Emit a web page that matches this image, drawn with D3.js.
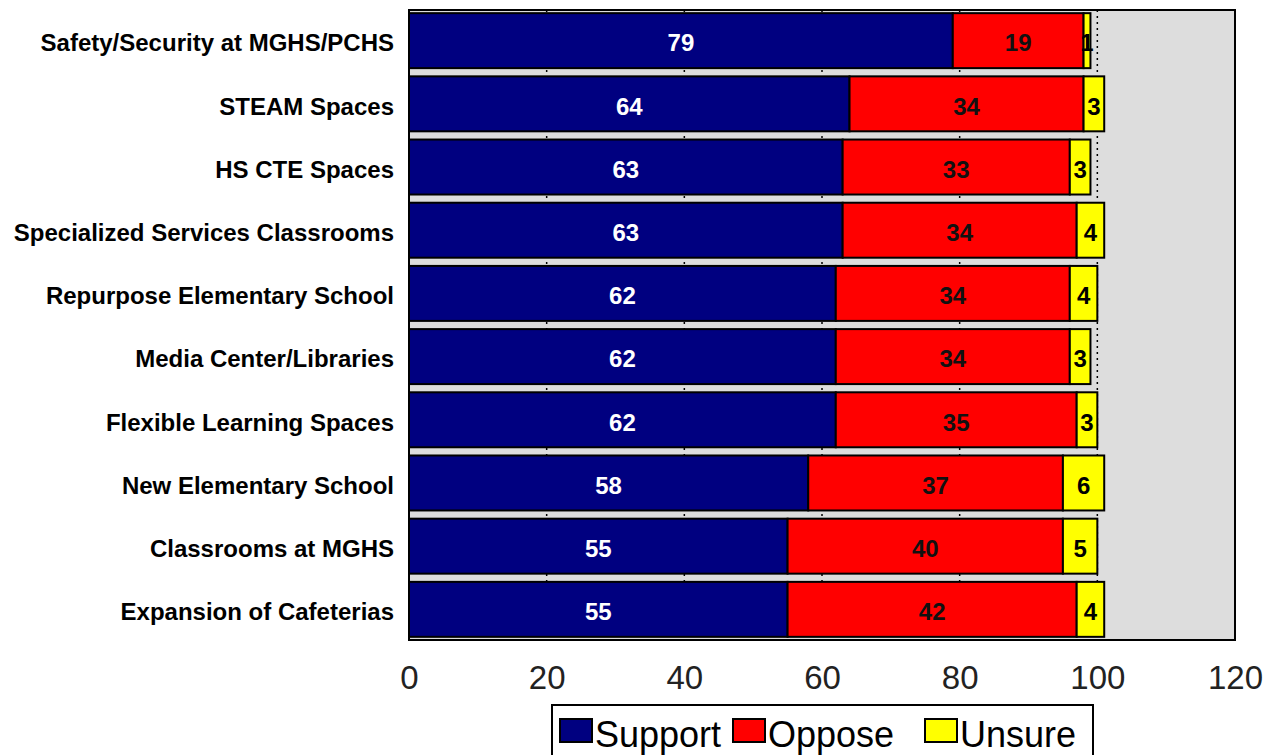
<!DOCTYPE html>
<html>
<head>
<meta charset="utf-8">
<script src="https://cdn.jsdelivr.net/npm/d3@7"></script>
<style>
  html, body { margin: 0; padding: 0; background: #fff; }
  svg { display: block; font-family: "Liberation Sans", Arial, sans-serif; }
</style>
</head>
<body>
<svg id="chart" width="1264" height="755"></svg>
<script>
// Survey results by project
const categories = [
  "Safety/Security at MGHS/PCHS",
  "STEAM Spaces",
  "HS CTE Spaces",
  "Specialized Services Classrooms",
  "Repurpose Elementary School",
  "Media Center/Libraries",
  "Flexible Learning Spaces",
  "New Elementary School",
  "Classrooms at MGHS",
  "Expansion of Cafeterias"
];
const support = [79, 64, 63, 63, 62, 62, 62, 58, 55, 55];
const oppose  = [19, 34, 33, 34, 34, 34, 35, 37, 40, 42];
const unsure  = [1, 3, 3, 4, 4, 3, 3, 6, 5, 4];
const seriesNames = ["Support", "Oppose", "Unsure"];
const seriesColors = ["#000080", "#ff0000", "#ffff00"];
const labelColors = ["#ffffff", "#111111", "#000000"];
const xTicks = [0, 20, 40, 60, 80, 100, 120];

const svg = d3.select("#chart");

const plot = { left: 409, right: 1235, top: 10, bottom: 640 };

const x = d3.scaleLinear().domain([0, 120]).range([plot.left, plot.right]);
const y = d3.scaleBand().domain(categories)
  .range([plot.top, plot.bottom])
  .paddingInner(0.13).paddingOuter(0.05);

// stacked rows
const rows = categories.map((c, i) => ({ category: c, Support: support[i], Oppose: oppose[i], Unsure: unsure[i] }));
const stacked = d3.stack().keys(seriesNames)(rows);

// plot background
svg.append("rect")
  .attr("x", plot.left).attr("y", plot.top)
  .attr("width", plot.right - plot.left).attr("height", plot.bottom - plot.top)
  .attr("fill", "#dddddd");

// dotted gridlines
svg.append("g").selectAll("line")
  .data(xTicks.filter(t => t > 0 && t < 120))
  .join("line")
  .attr("x1", d => x(d)).attr("x2", d => x(d))
  .attr("y1", plot.top).attr("y2", plot.bottom)
  .attr("stroke", "#000").attr("stroke-width", 1.5)
  .attr("stroke-dasharray", "2,4");

// bars
const layers = svg.append("g").selectAll("g")
  .data(stacked)
  .join("g")
  .attr("fill", (d, i) => seriesColors[i]);

layers.selectAll("rect")
  .data(d => d)
  .join("rect")
  .attr("x", d => x(d[0]))
  .attr("y", d => y(d.data.category))
  .attr("width", d => x(d[1]) - x(d[0]))
  .attr("height", y.bandwidth())
  .attr("stroke", "#000")
  .attr("stroke-width", 2);

// value labels
stacked.forEach((layer, si) => {
  svg.append("g").selectAll("text")
    .data(layer)
    .join("text")
    .attr("x", d => (x(d[0]) + x(d[1])) / 2)
    .attr("y", d => y(d.data.category) + y.bandwidth() / 2)
    .attr("dy", "0.45em")
    .attr("text-anchor", "middle")
    .attr("font-size", 24)
    .attr("font-weight", "bold")
    .attr("fill", labelColors[si])
    .text(d => d.data[layer.key]);
});

// frame
svg.append("rect")
  .attr("x", plot.left).attr("y", plot.top)
  .attr("width", plot.right - plot.left).attr("height", plot.bottom - plot.top)
  .attr("fill", "none").attr("stroke", "#000").attr("stroke-width", 2);

// category labels
svg.append("g").selectAll("text")
  .data(categories)
  .join("text")
  .attr("x", plot.left - 15)
  .attr("y", d => y(d) + y.bandwidth() / 2)
  .attr("dy", "0.45em")
  .attr("text-anchor", "end")
  .attr("font-size", 24)
  .attr("font-weight", "bold")
  .attr("fill", "#000")
  .text(d => d);

// x axis tick labels
const xAxis = d3.axisBottom(x).tickValues(xTicks).tickSize(0).tickPadding(0);
const gx = svg.append("g").attr("transform", `translate(0, 665)`).call(xAxis);
gx.select(".domain").remove();
gx.selectAll("text")
  .attr("font-size", 33)
  .attr("font-family", "\"Liberation Sans\", Arial, sans-serif")
  .attr("fill", "#222")
  .attr("dy", "0.72em");

// legend
const legend = svg.append("g");
legend.append("rect")
  .attr("x", 552).attr("y", 705).attr("width", 541).attr("height", 70)
  .attr("fill", "#fff").attr("stroke", "#000").attr("stroke-width", 2);
const legendX = [560, 733, 925];
seriesNames.forEach((name, i) => {
  legend.append("rect")
    .attr("x", legendX[i]).attr("y", 719).attr("width", 32).attr("height", 23)
    .attr("fill", seriesColors[i]).attr("stroke", "#000").attr("stroke-width", 2);
  legend.append("text")
    .attr("x", legendX[i] + 35).attr("y", 747)
    .attr("font-size", 36)
    .attr("fill", "#000")
    .text(name);
});
</script>
</body>
</html>
